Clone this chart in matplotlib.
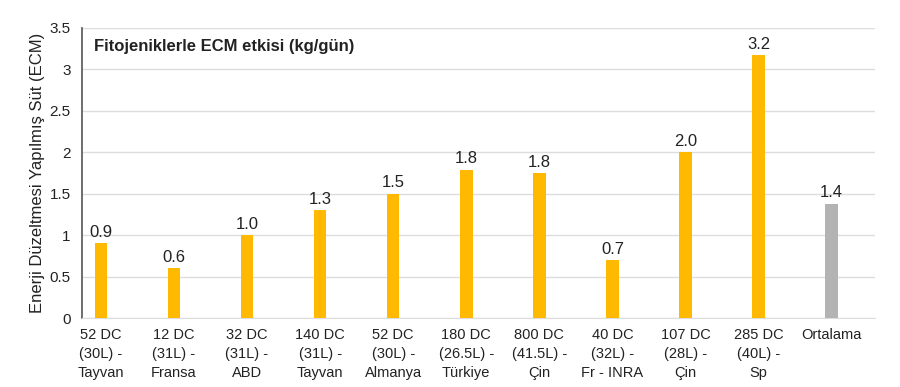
import matplotlib
matplotlib.use("Agg")
import matplotlib.pyplot as plt

categories = ["52 DC\n(30L) -\nTayvan", "12 DC\n(31L) -\nFransa", "32 DC\n(31L) -\nABD",
              "140 DC\n(31L) -\nTayvan", "52 DC\n(30L) -\nAlmanya", "180 DC\n(26.5L) -\nTürkiye",
              "800 DC\n(41.5L) -\nÇin", "40 DC\n(32L) -\nFr - INRA", "107 DC\n(28L) -\nÇin",
              "285 DC\n(40L) -\nSp", "Ortalama"]
values = [0.9, 0.6, 1.0, 1.3, 1.5, 1.79, 1.75, 0.7, 2.0, 3.17, 1.38]
labels = ["0.9", "0.6", "1.0", "1.3", "1.5", "1.8", "1.8", "0.7", "2.0", "3.2", "1.4"]
yticks = [0, 0.5, 1, 1.5, 2, 2.5, 3, 3.5]
ytick_labels = ["0", "0.5", "1", "1.5", "2", "2.5", "3", "3.5"]

plt.rcParams['font.family'] = ['Liberation Sans', 'DejaVu Sans']

fig = plt.figure(figsize=(9, 3.87), dpi=100)
ax = fig.add_axes([0.091, 0.178, 0.881, 0.75])

colors = ["#FFB900"] * (len(values) - 1) + ["#B3B3B3"]
x = list(range(len(values)))
ax.bar(x, values, width=0.17, color=colors, zorder=3)
for xi, v, lab in zip(x, values, labels):
    ax.text(xi, v + 0.04, lab, ha="center", va="bottom", fontsize=12, color="#222222")

ax.set_xlim(-0.26, len(values) - 0.41)
ax.set_ylim(0, 3.5)
ax.set_yticks(yticks)
ax.set_yticklabels(ytick_labels, fontsize=11)
ax.set_xticks(x)
ax.set_xticklabels(categories, fontsize=10.5, linespacing=1.45)
ax.tick_params(axis="both", length=0, colors="#222222")
ax.tick_params(axis="x", pad=7)
ax.tick_params(axis="y", pad=8)
ax.grid(axis="y", color="#DDDDDD", linewidth=1, zorder=0)
for s in ["top", "right"]:
    ax.spines[s].set_visible(False)
ax.spines["left"].set_color("#555555")
ax.spines["left"].set_linewidth(1.2)
ax.spines["bottom"].set_color("#DDDDDD")
ax.set_ylabel("Enerji Düzeltmesi Yapılmış Süt (ECM)", fontsize=12, color="#222222", labelpad=3)
ax.text(0.015, 0.935, "Fitojeniklerle ECM etkisi (kg/gün)", transform=ax.transAxes,
        fontsize=12, fontweight="bold", color="#222222", va="center", ha="left")

fig.savefig("out.png", dpi=100)
